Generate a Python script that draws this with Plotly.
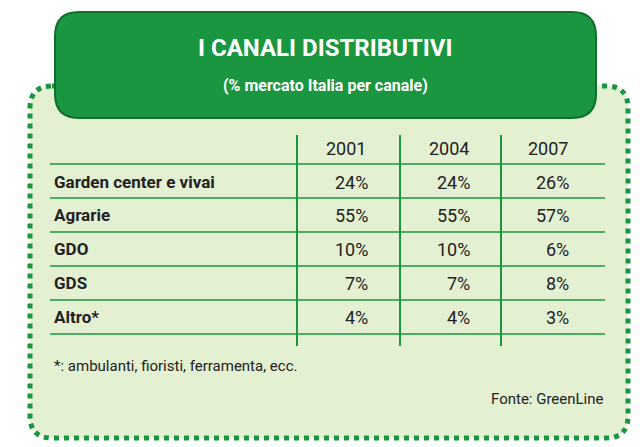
import plotly.graph_objects as go

title = "I CANALI DISTRIBUTIVI"
subtitle = "(% mercato Italia per canale)"
years = ["2001", "2004", "2007"]
channels = ["Garden center e vivai", "Agrarie", "GDO", "GDS", "Altro*"]
share_2001 = [24, 55, 10, 7, 4]
share_2004 = [24, 55, 10, 7, 4]
share_2007 = [26, 57, 6, 8, 3]
note = "*: ambulanti, fioristi, ferramenta, ecc."
source = "Fonte: GreenLine"

green = "#1b9640"
dark = "#0f6e2c"
font = "Roboto"

def rounded(x0, y0, x1, y1, r):
    return (f"M{x0+r},{y0} L{x1-r},{y0} Q{x1},{y0} {x1},{y0+r} L{x1},{y1-r} Q{x1},{y1} {x1-r},{y1} "
            f"L{x0+r},{y1} Q{x0},{y1} {x0},{y1-r} L{x0},{y0+r} Q{x0},{y0} {x0+r},{y0} Z")

fig = go.Figure()
shapes = [
    dict(type="path", path=rounded(30, 86, 628, 438, 22), fillcolor="#e4f0d2",
         line=dict(color=green, width=5, dash="dot")),
    dict(type="path", path=rounded(55, 12, 596, 118, 24), fillcolor=green,
         line=dict(color=dark, width=2)),
]
row_y = [182, 215, 249, 283, 317]
for y in [164, 198, 232, 266, 300, 334]:
    shapes.append(dict(type="line", x0=50, x1=605, y0=y, y1=y, line=dict(color=green, width=1.5)))
for x in [297, 400, 501]:
    shapes.append(dict(type="line", x0=x, x1=x, y0=135, y1=346, line=dict(color=green, width=2)))

ann = [
    dict(x=325, y=48, text=f"<b>{title}</b>", font=dict(size=24, color="white", family=font)),
    dict(x=325, y=85, text=f"<b>{subtitle}</b>", font=dict(size=16, color="white", family=font)),
]
for yr, x in zip(years, [346, 449, 548]):
    ann.append(dict(x=x, y=148, text=yr, font=dict(size=18, color="#222", family=font)))
for i, ch in enumerate(channels):
    ann.append(dict(x=52, y=row_y[i], text=f"<b>{ch}</b>", xanchor="left",
                    font=dict(size=17, color="#222", family=font)))
    for vals, x in zip([share_2001, share_2004, share_2007], [370, 472, 571]):
        ann.append(dict(x=x, y=row_y[i], text=f"{vals[i]}%", xanchor="right",
                        font=dict(size=18, color="#222", family=font)))
ann.append(dict(x=52, y=366, text=note, xanchor="left", font=dict(size=15, color="#222", family=font)))
ann.append(dict(x=606, y=399, text=source, xanchor="right", font=dict(size=15, color="#222", family=font)))
for a in ann:
    a.update(xref="x", yref="y", showarrow=False)

# shift by 8px to compensate for the page's body margin
fig.update_layout(
    width=640, height=447, margin=dict(l=0, r=0, t=0, b=0),
    plot_bgcolor="white", paper_bgcolor="white",
    xaxis=dict(range=[8, 648], visible=False),
    yaxis=dict(range=[455, 8], visible=False),
    shapes=shapes, annotations=ann, showlegend=False,
)
fig.write_html("out.html")
